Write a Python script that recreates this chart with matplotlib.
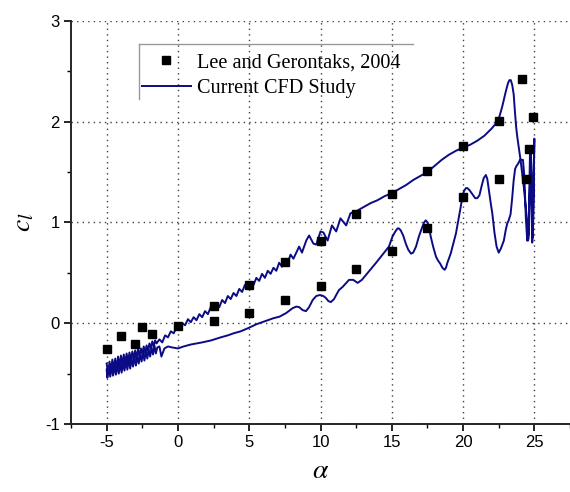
import numpy as np
import matplotlib
matplotlib.use("Agg")
import matplotlib.pyplot as plt
from matplotlib.lines import Line2D
from matplotlib.ticker import MultipleLocator

plt.rcParams['axes.unicode_minus'] = False
plt.rcParams['mathtext.fontset'] = 'stix'

# Experimental data (Lee and Gerontakis, 2004)
exp_alpha = [-5, -4, -3, -2.5, -1.8, 0, 2.5, 5, 7.5, 10, 12.5, 15, 17.5, 20, 22.5, 24.1, 24.9,
             24.6, 24.4, 22.5, 20, 17.5, 15, 12.5, 10, 7.5, 5, 2.5]
exp_cl = [-0.26, -0.13, -0.21, -0.04, -0.11, -0.03, 0.17, 0.38, 0.61, 0.82, 1.08, 1.28, 1.51, 1.76, 2.01, 2.42, 2.04,
          1.73, 1.43, 1.43, 1.25, 0.94, 0.72, 0.54, 0.37, 0.23, 0.10, 0.02]

# CFD hysteresis loop, upstroke
up_alpha = [-5.0, -4.9, -4.8, -4.7, -4.6, -4.5, -4.4, -4.3, -4.2, -4.1, -4.0, -3.9, -3.8, -3.7, -3.6,
            -3.5, -3.4, -3.3, -3.2, -3.1, -3.0, -2.9, -2.8, -2.7, -2.6, -2.5, -2.4, -2.3, -2.2, -2.1,
            -2.0, -1.9, -1.8, -1.7, -1.6, -1.5, -1.3, -1.1, -0.9, -0.7, -0.5, -0.3, -0.1, 0.1, 0.3,
            0.5, 0.7, 0.9, 1.1, 1.3, 1.5, 1.7, 1.9, 2.1, 2.3, 2.5, 2.7, 2.9, 3.1, 3.3,
            3.5, 3.7, 3.9, 4.1, 4.3, 4.5, 4.7, 4.9, 5.1, 5.3, 5.5, 5.7, 5.9, 6.1, 6.3,
            6.5, 6.7, 6.9, 7.1, 7.3, 7.5, 7.7, 7.9, 8.1, 8.3, 8.5, 8.7, 9.0, 9.2, 9.5,
            9.7, 10.0, 10.2, 10.5, 10.8, 11.1, 11.4, 11.8, 12.1, 12.5, 13.0, 13.5, 14.0, 14.5, 15.0,
            15.5, 16.0, 16.5, 17.0, 17.5, 18.0, 18.5, 19.0, 19.5, 20.0, 20.5, 21.0, 21.5, 22.0, 22.3,
            22.55, 22.75, 23.0, 23.15, 23.25, 23.35, 23.45, 23.55, 23.63, 23.72, 23.8, 24.03, 24.26, 24.4, 24.5,
            24.56, 24.6, 24.7, 24.75, 24.8, 24.85, 24.9, 24.95, 25.0]
up_cl = [-0.40, -0.50, -0.38, -0.48, -0.36, -0.46, -0.35, -0.45, -0.33, -0.43, -0.32, -0.41, -0.31, -0.40, -0.30,
         -0.38, -0.29, -0.37, -0.28, -0.35, -0.27, -0.34, -0.26, -0.32, -0.25, -0.30, -0.23, -0.29, -0.22, -0.27,
         -0.20, -0.25, -0.18, -0.23, -0.17, -0.20, -0.16, -0.19, -0.12, -0.14, -0.08, -0.10, -0.04, -0.06, 0.00,
         -0.02, 0.04, 0.01, 0.06, 0.03, 0.09, 0.06, 0.12, 0.09, 0.16, 0.13, 0.19, 0.16, 0.23, 0.20,
         0.27, 0.24, 0.30, 0.27, 0.34, 0.31, 0.38, 0.35, 0.41, 0.38, 0.45, 0.42, 0.49, 0.45, 0.52,
         0.49, 0.55, 0.52, 0.60, 0.56, 0.63, 0.60, 0.68, 0.64, 0.70, 0.76, 0.70, 0.82, 0.87, 0.79,
         0.78, 0.91, 0.90, 0.82, 0.97, 0.91, 1.04, 0.97, 1.09, 1.11, 1.15, 1.19, 1.22, 1.26, 1.29,
         1.33, 1.37, 1.42, 1.46, 1.50, 1.56, 1.62, 1.67, 1.71, 1.74, 1.77, 1.81, 1.86, 1.93, 1.98,
         2.05, 2.15, 2.30, 2.38, 2.41, 2.41, 2.36, 2.27, 2.11, 1.95, 1.85, 1.62, 1.35, 1.15, 1.00,
         0.82, 0.85, 1.40, 1.70, 1.55, 1.10, 0.85, 1.30, 1.83]

# CFD hysteresis loop, downstroke
down_alpha = [24.95, 24.9, 24.85, 24.8, 24.75, 24.7, 24.65, 24.6, 24.5, 24.4, 24.3, 24.2, 24.0, 23.85, 23.75,
              23.65, 23.55, 23.45, 23.33, 23.2, 23.1, 23.0, 22.86, 22.65, 22.5, 22.35, 22.2, 22.05, 21.95, 21.8,
              21.7, 21.6, 21.45, 21.3, 21.15, 21.0, 20.85, 20.7, 20.45, 20.3, 20.2, 20.06, 19.95, 19.83, 19.5,
              19.13, 18.9, 18.8, 18.7, 18.55, 18.4, 18.25, 18.1, 17.9, 17.73, 17.6, 17.5, 17.38, 17.27, 17.1,
              16.9, 16.7, 16.5, 16.35, 16.15, 15.98, 15.8, 15.63, 15.5, 15.4, 15.25, 15.05, 14.8, 14.35, 13.9,
              13.2, 12.9, 12.6, 12.3, 12.0, 11.55, 11.3, 11.1, 10.95, 10.73, 10.55, 10.38, 10.2, 9.96, 9.7,
              9.45, 9.2, 8.98, 8.75, 8.5, 8.3, 8.05, 7.58, 7.12, 6.7, 6.3, 5.9, 5.5, 4.9, 4.4,
              3.9, 3.5, 3.0, 2.33, 1.7, 0.93, 0.4, 0.0, -0.4, -0.7, -0.95, -1.16, -1.3, -1.45, -1.55,
              -1.65, -1.75, -1.85, -1.95, -2.05, -2.15, -2.25, -2.35, -2.45, -2.55, -2.65, -2.75, -2.85, -2.95, -3.05,
              -3.15, -3.25, -3.35, -3.45, -3.55, -3.65, -3.75, -3.85, -3.95, -4.05, -4.15, -4.25, -4.35, -4.45, -4.55,
              -4.65, -4.75, -4.85, -4.95, -5.0]
down_cl = [1.40, 0.95, 0.80, 1.20, 1.70, 1.75, 1.30, 0.90, 0.82, 1.05, 1.45, 1.62, 1.62, 1.58, 1.56,
           1.53, 1.42, 1.25, 1.08, 1.02, 0.99, 0.93, 0.82, 0.74, 0.70, 0.76, 0.90, 1.09, 1.18, 1.33,
           1.43, 1.47, 1.44, 1.36, 1.27, 1.24, 1.24, 1.27, 1.32, 1.34, 1.34, 1.31, 1.25, 1.15, 0.89,
           0.69, 0.60, 0.55, 0.53, 0.55, 0.59, 0.62, 0.66, 0.76, 0.86, 0.96, 1.00, 1.02, 1.00, 0.94,
           0.86, 0.76, 0.70, 0.69, 0.73, 0.79, 0.87, 0.92, 0.94, 0.94, 0.91, 0.86, 0.76, 0.68, 0.60,
           0.48, 0.43, 0.40, 0.43, 0.43, 0.36, 0.33, 0.28, 0.24, 0.21, 0.22, 0.25, 0.27, 0.28, 0.27,
           0.23, 0.16, 0.12, 0.13, 0.16, 0.165, 0.15, 0.10, 0.065, 0.05, 0.03, 0.01, -0.01, -0.05, -0.08,
           -0.10, -0.12, -0.14, -0.17, -0.19, -0.21, -0.23, -0.25, -0.24, -0.23, -0.25, -0.33, -0.23, -0.24, -0.30,
           -0.22, -0.31, -0.24, -0.33, -0.26, -0.35, -0.27, -0.37, -0.29, -0.38, -0.30, -0.40, -0.32, -0.42, -0.33,
           -0.43, -0.35, -0.45, -0.36, -0.46, -0.37, -0.47, -0.39, -0.49, -0.40, -0.50, -0.41, -0.51, -0.42, -0.52,
           -0.43, -0.53, -0.44, -0.54, -0.46]

cfd_alpha = up_alpha + down_alpha
cfd_cl = up_cl + down_cl

x_ticks = [-5, 0, 5, 10, 15, 20, 25]
y_ticks = [-1, 0, 1, 2, 3]

fig = plt.figure(figsize=(5.7, 4.92), dpi=100)
ax = fig.add_axes([0.1246, 0.138, 0.8754, 0.82])

ax.plot(cfd_alpha, cfd_cl, color='#0b0b85', lw=1.4, zorder=2, label='Current CFD Study')
ax.plot(exp_alpha, exp_cl, 's', color='black', ms=6.2, zorder=3, label='Lee and Gerontaks, 2004')

ax.set_xlim(-7.5, 27.5)
ax.set_ylim(-1, 3)
ax.set_xticks(x_ticks)
ax.set_yticks(y_ticks)
ax.xaxis.set_minor_locator(MultipleLocator(2.5))
ax.yaxis.set_minor_locator(MultipleLocator(0.5))
ax.grid(True, which='major', linestyle=(0, (1, 3)), color='0.25', lw=1.0)
ax.set_axisbelow(True)

for s in ['top', 'right']:
    ax.spines[s].set_visible(False)
for s in ['left', 'bottom']:
    ax.spines[s].set_linewidth(1.4)
    ax.spines[s].set_color('0.15')

ax.tick_params(which='major', direction='out', length=5, width=1.2, labelsize=12, pad=3)
ax.tick_params(which='minor', direction='out', length=3, width=1.0)
for lab in ax.get_xticklabels() + ax.get_yticklabels():
    lab.set_fontfamily('Liberation Sans')

ax.set_xlabel(r'$\alpha$', fontsize=20, labelpad=4)
ax.set_ylabel(r'$c_l$', fontsize=20, labelpad=6)

# legend: experiment first, partial frame (top and left edges only)
h, l = ax.get_legend_handles_labels()
leg = ax.legend(h[::-1], l[::-1], loc='upper left', bbox_to_anchor=(0.124, 0.942),
                borderaxespad=0, frameon=False, numpoints=1, handlelength=2.4,
                handletextpad=0.3, labelspacing=0.3, borderpad=0.45,
                prop={'family': 'Liberation Serif', 'size': 14.6})
ax.add_line(Line2D([0.136, 0.686], [0.942, 0.942], transform=ax.transAxes,
                   color='0.6', lw=1.0, clip_on=False))
ax.add_line(Line2D([0.136, 0.136], [0.942, 0.806], transform=ax.transAxes,
                   color='0.6', lw=1.0, clip_on=False))

fig.savefig('out.png', dpi=100)
